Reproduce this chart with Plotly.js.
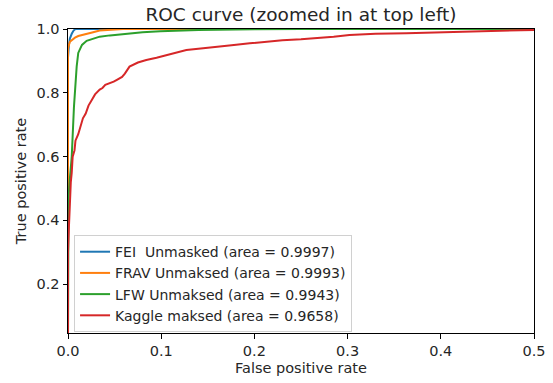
<!DOCTYPE html>
<html>
<head>
<meta charset="utf-8">
<script src="https://cdn.plot.ly/plotly-3.0.1.min.js"></script>
<style>html,body{margin:0;padding:0;background:#fff;}#chart{width:553px;height:383px;}</style>
</head>
<body>
<div id="chart"></div>
<script>
// Series labels
var seriesNames = ["FEI\u00a0 Unmasked (area = 0.9997)", "FRAV Unmaksed (area = 0.9993)", "LFW Unmaksed (area = 0.9943)", "Kaggle maksed (area = 0.9658)"];
var seriesColors = ["#1f77b4", "#ff7f0e", "#2ca02c", "#d62728"];

// FEI Unmasked
var feiFpr = [0, 0, 0.001, 0.002, 0.004, 0.006, 0.008, 1];
var feiTpr = [0, 0.91, 0.95, 0.97, 0.985, 0.995, 1.0, 1.0];

// FRAV Unmaksed
var fravFpr = [0, 0, 0.002, 0.005, 0.0075, 0.011, 0.016, 0.022, 0.027, 0.034, 0.045, 0.059, 1];
var fravTpr = [0, 0.94, 0.96, 0.968, 0.973, 0.978, 0.981, 0.986, 0.99, 0.995, 0.998, 1.0, 1.0];

// LFW Unmaksed
var lfwFpr = [0, 0, 0.0005, 0.002, 0.004, 0.0064, 0.0085, 0.0093, 0.011, 0.013, 0.015, 0.02, 0.024, 0.034, 0.045, 0.063, 0.08, 0.099, 0.14, 0.2, 0.25, 1];
var lfwTpr = [0, 0.40, 0.47, 0.53, 0.60, 0.756, 0.86, 0.882, 0.925, 0.94, 0.95, 0.963, 0.967, 0.976, 0.98, 0.986, 0.99, 0.993, 0.997, 0.999, 1.0, 1.0];

// Kaggle maksed
var kagFpr = [0, 0, 0.001, 0.002, 0.003, 0.004, 0.005, 0.007, 0.008, 0.011, 0.013, 0.016, 0.019, 0.022, 0.026, 0.029, 0.034, 0.037, 0.040, 0.045, 0.049, 0.052, 0.058, 0.061, 0.064, 0.066, 0.075, 0.084, 0.095, 0.106, 0.117, 0.127, 0.145, 0.159, 0.178, 0.195, 0.213, 0.23, 0.25, 0.267, 0.285, 0.302, 0.33, 0.363, 0.40, 0.434, 0.47, 0.5, 1];
var kagTpr = [0, 0.30, 0.38, 0.46, 0.52, 0.55, 0.60, 0.62, 0.65, 0.67, 0.69, 0.72, 0.735, 0.76, 0.78, 0.795, 0.81, 0.815, 0.825, 0.83, 0.835, 0.84, 0.85, 0.86, 0.872, 0.882, 0.895, 0.903, 0.91, 0.918, 0.928, 0.934, 0.94, 0.945, 0.95, 0.955, 0.96, 0.965, 0.968, 0.971, 0.976, 0.981, 0.985, 0.987, 0.99, 0.992, 0.995, 0.997, 1.0];

var xTickVals = [0, 0.1, 0.2, 0.3, 0.4, 0.5];
var xTickText = ["0.0", "0.1", "0.2", "0.3", "0.4", "0.5"];
var yTickVals = [0.2, 0.4, 0.6, 0.8, 1.0];
var yTickText = ["0.2", "0.4", "0.6", "0.8", "1.0"];

var xs = [feiFpr, fravFpr, lfwFpr, kagFpr];
var ys = [feiTpr, fravTpr, lfwTpr, kagTpr];

var traces = xs.map(function (x, i) {
  return {
    x: x, y: ys[i], type: "scatter", mode: "lines",
    name: seriesNames[i],
    line: {color: seriesColors[i], width: 2}
  };
});

var fontFam = "DejaVu Sans, sans-serif";
var txt = "#262626";
var fs = 14.5;
var layout = {
  width: 553, height: 383,
  margin: {l: 68, r: 19, t: 29, b: 50, pad: 0},
  paper_bgcolor: "#fff", plot_bgcolor: "#fff",
  font: {family: fontFam, size: fs, color: txt},
  title: {text: "ROC curve (zoomed in at top left)", font: {family: fontFam, size: 18.5, color: txt},
          x: 0.5, xref: "paper", xanchor: "center", y: 0.963, yref: "container", yanchor: "middle"},
  showlegend: true,
  legend: {x: 0.013, y: 0.322, xanchor: "left", yanchor: "top",
           bgcolor: "rgba(255,255,255,0.8)", bordercolor: "#d0d0d0", borderwidth: 1,
           font: {family: fontFam, size: 14, color: txt}, tracegroupgap: 0},
  xaxis: {range: [0, 0.5], tickvals: xTickVals, ticktext: xTickText,
          showgrid: false, zeroline: false, showline: true, mirror: true,
          linecolor: "#000", linewidth: 1, ticks: "outside", ticklen: 4.5, tickwidth: 1, tickcolor: "#000",
          tickfont: {family: fontFam, size: fs, color: txt},
          title: {text: "False positive rate", font: {family: fontFam, size: fs, color: txt}, standoff: 4}},
  yaxis: {range: [0.047, 1.0], tickvals: yTickVals, ticktext: yTickText,
          showgrid: false, zeroline: false, showline: true, mirror: true,
          linecolor: "#000", linewidth: 1, ticks: "outside", ticklen: 4.5, tickwidth: 1, tickcolor: "#000",
          tickfont: {family: fontFam, size: fs, color: txt},
          title: {text: "True positive rate", font: {family: fontFam, size: fs, color: txt}, standoff: 6}}
};

Plotly.newPlot("chart", traces, layout, {displayModeBar: false, staticPlot: true});
</script>
</body>
</html>
